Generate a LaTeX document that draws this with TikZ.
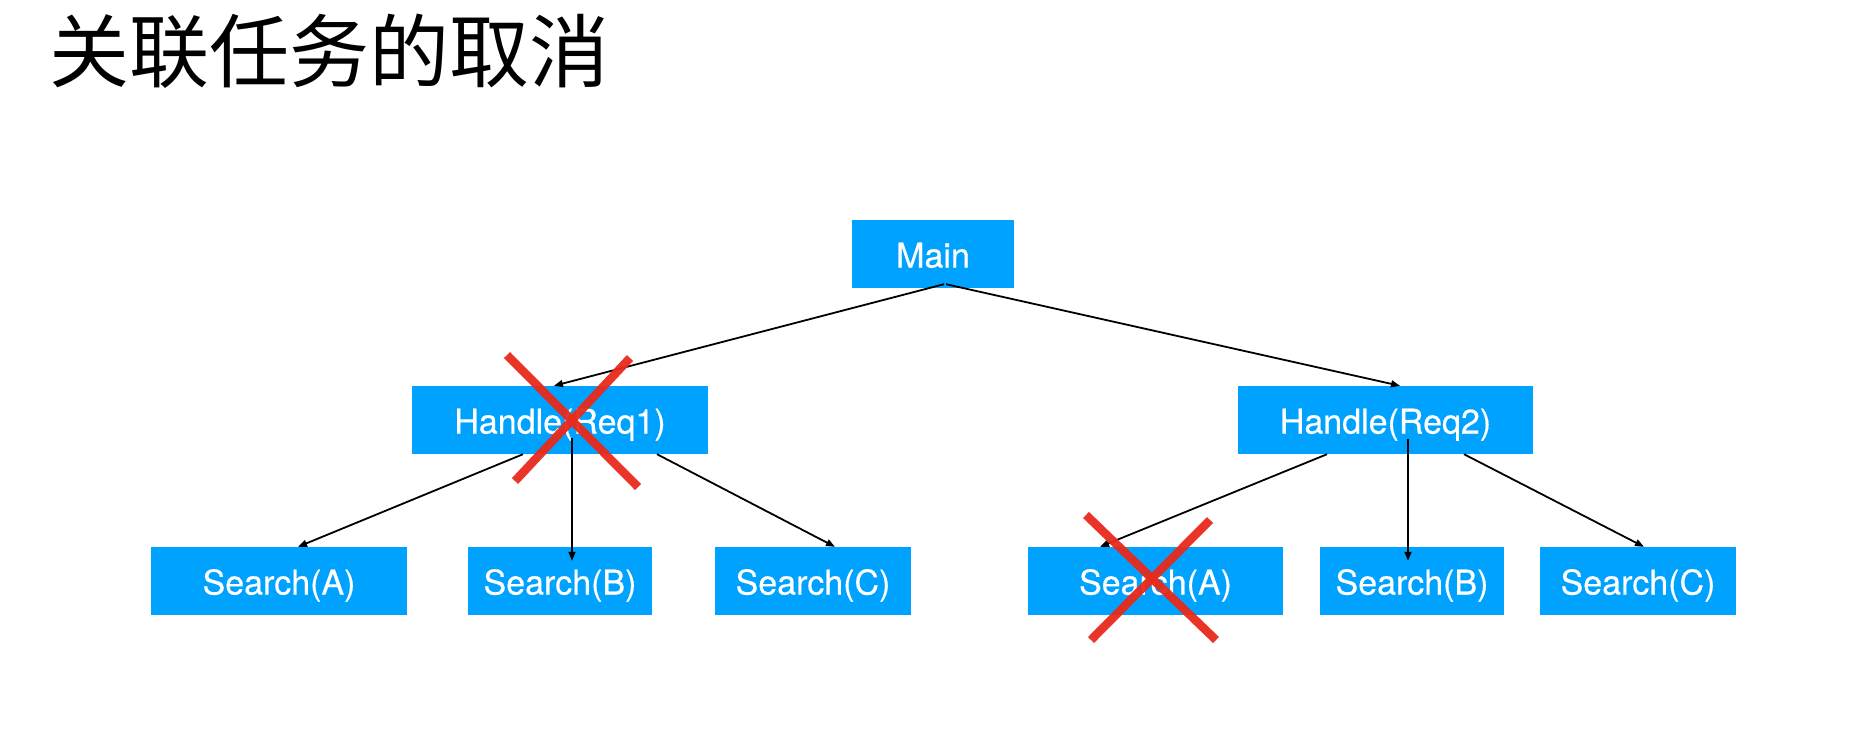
\documentclass[tikz,border=0pt]{standalone}
\usepackage{fontspec}
\setmainfont{TeX Gyre Heros}
\newfontfamily\boxfont[FakeBold=0.4]{TeX Gyre Heros}
\newfontfamily\cjk{Noto Sans CJK SC}
\usetikzlibrary{arrows.meta}
\definecolor{boxblue}{HTML}{00A2FF}
\definecolor{crossred}{RGB}{232,42,28}
\tikzset{
  task/.style={fill=boxblue, text=white, inner sep=0pt, minimum height=68pt,
    text height=28pt, text depth=1pt,
    font=\boxfont\fontsize{34}{40}\selectfont},
  link/.style={draw=black, line width=1.8pt, -{Triangle[length=9pt,width=7pt]}},
  cancel/.style={draw=crossred, line width=8.5pt, opacity=0.95},
}
\begin{document}
\begin{tikzpicture}[x=1pt,y=-1pt]
\useasboundingbox[fill=white] (0,0) rectangle (1872,732);
\node[anchor=base west, inner sep=0pt, font=\cjk\fontsize{80}{90}\selectfont] (title) at (49,81) {关联任务的取消};

\node[task, minimum width=162pt] (main) at (933,254) {Main};
\node[task, minimum width=296pt] (req1) at (560,420) {Handle(Req1)};
\node[task, minimum width=295pt] (req2) at (1385.5,420) {Handle(Req2)};

\node[task, minimum width=256pt] (la) at (279,581) {Search(A)};
\node[task, minimum width=184pt] (lb) at (560,581) {Search(B)};
\node[task, minimum width=196pt] (lc) at (813,581) {Search(C)};
\node[task, minimum width=255pt] (ra) at (1155.5,581) {Search(A)};
\node[task, minimum width=184pt] (rb) at (1412,581) {Search(B)};
\node[task, minimum width=196pt] (rc) at (1638,581) {Search(C)};

\draw[link] ([xshift=11pt,yshift=4pt]main.south) -- ([xshift=-6pt]req1.north);
\draw[link] ([xshift=13pt,yshift=4pt]main.south) -- ([xshift=14.5pt]req2.north);

\draw[link] ([xshift=-37pt]req1.south) -- ([xshift=19pt]la.north);
\draw[link] ([xshift=12pt,yshift=16pt]req1.south) -- ([xshift=12pt,yshift=-14pt]lb.north);
\draw[link] ([xshift=97pt]req1.south) -- ([xshift=22pt]lc.north);

\draw[link] ([xshift=-58.5pt]req2.south) -- ([xshift=-55.5pt]ra.north);
\draw[link] ([xshift=22.5pt,yshift=15pt]req2.south) -- ([xshift=-4pt,yshift=-14pt]rb.north);
\draw[link] ([xshift=78.5pt]req2.south) -- ([xshift=6pt]rc.north);

\draw[cancel] (507,355) -- (638,487);
\draw[cancel] (630,358) -- (515,481);
\draw[cancel] (1086,515) -- (1216,640);
\draw[cancel] (1210,520) -- (1091,640);
\end{tikzpicture}
\end{document}
